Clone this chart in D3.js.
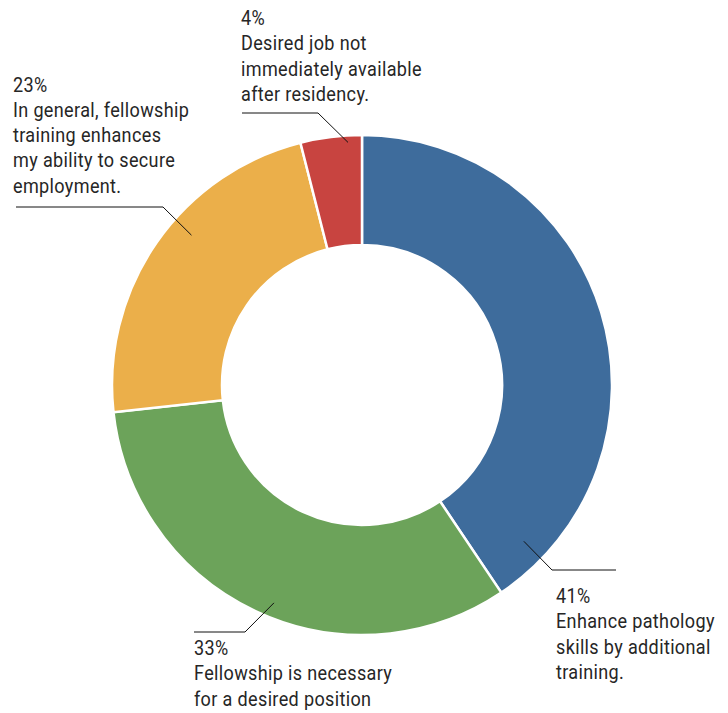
<!DOCTYPE html>
<html>
<head>
<meta charset="utf-8">
<script src="https://cdn.jsdelivr.net/npm/d3@7"></script>
<style>
  html, body { margin: 0; padding: 0; background: #fff; }
  svg text { font-family: Roboto, "Noto Sans", sans-serif; fill: #262626; }
</style>
</head>
<body>
<svg id="chart" width="728" height="713"></svg>
<script>
// Survey responses: reasons for pursuing fellowship training
const categories = [
  "Enhance pathology skills by additional training.",
  "Fellowship is necessary for a desired position",
  "In general, fellowship training enhances my ability to secure employment.",
  "Desired job not immediately available after residency."
];
const values = [41, 33, 23, 4];
const colors = ["#3e6c9c", "#6ca35a", "#ebaf4a", "#c84440"];
// wrapped label lines for each slice
const labelLines = [
  ["Enhance pathology", "skills by additional", "training."],
  ["Fellowship is necessary", "for a desired position"],
  ["In general, fellowship", "training enhances", "my ability to secure", "employment."],
  ["Desired job not", "immediately available", "after residency."]
];

// label layout: leader start (angle in degrees, radius), elbow point, line end x, text block origin
const layout = [
  { ang: 134, r: 225, elbow: [552, 570], end: 616, tx: 556, ty: 603 },
  { ang: 202, r: 235, elbow: [245, 632], end: 194, tx: 194, ty: 655 },
  { ang: 311.3, r: 227, elbow: [163, 207], end: 16, tx: 13, ty: 91.5 },
  { ang: 356.7, r: 243, elbow: [318, 113], end: 242, tx: 241, ty: 25 }
];

const svg = d3.select("#chart");
const cx = 362, cy = 385, outerR = 250, innerR = 140;
const g = svg.append("g").attr("transform", `translate(${cx},${cy})`);

const pie = d3.pie().sort(null).value(d => d)(values);
const arc = d3.arc().innerRadius(innerR).outerRadius(outerR);

g.selectAll("path.slice")
  .data(pie)
  .join("path")
  .attr("class", "slice")
  .attr("d", arc)
  .attr("fill", (d, i) => colors[i])
  .attr("stroke", "#fff")
  .attr("stroke-width", 2.5);

const lineH = 25.3;
const fontSize = 21;
const squeeze = 0.86; // condensed look for the label type

layout.forEach((L, i) => {
  const a = L.ang * Math.PI / 180;
  const sx = cx + L.r * Math.sin(a);
  const sy = cy - L.r * Math.cos(a);
  svg.append("polyline")
    .attr("points", `${sx},${sy} ${L.elbow[0]},${L.elbow[1]} ${L.end},${L.elbow[1]}`)
    .attr("fill", "none")
    .attr("stroke", "#111")
    .attr("stroke-width", 1);

  const t = svg.append("text")
    .attr("transform", `translate(${L.tx},${L.ty}) scale(${squeeze},1)`)
    .attr("font-size", fontSize)
    .attr("letter-spacing", 0.4);
  const lines = [Math.round(values[i]) + "%"].concat(labelLines[i]);
  lines.forEach((s, k) => {
    t.append("tspan")
      .attr("x", 0)
      .attr("y", k * lineH)
      .text(s);
  });
});
</script>
</body>
</html>
